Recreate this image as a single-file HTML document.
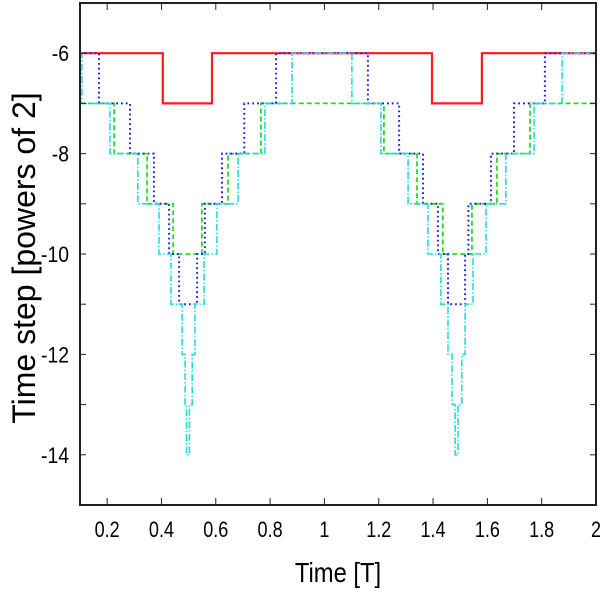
<!DOCTYPE html>
<html><head><meta charset="utf-8"><style>
body{margin:0;background:#fff;width:600px;height:592px;overflow:hidden}
svg text{font-family:"Liberation Sans",sans-serif;fill:#000}
</style></head><body>
<svg id="chart" width="600" height="592" viewBox="0 0 600 592" xmlns="http://www.w3.org/2000/svg">
<g id="marks"></g>
<g id="axes"></g>
<text x="338" y="582" font-size="28" text-anchor="middle" transform="translate(338,0) scale(0.85,1) translate(-338,0)">Time [T]</text>
<text x="0" y="0" font-size="32" text-anchor="middle" transform="translate(35,258) rotate(-90)">Time step [powers of 2]</text>
</svg>
<script>
const xTicks=[0.2,0.4,0.6,0.8,1,1.2,1.4,1.6,1.8,2];
const xTickLabels=["0.2","0.4","0.6","0.8","1","1.2","1.4","1.6","1.8","2"];
const yTicks=[-6,-8,-10,-12,-14];
const yTickLabels=["-6","-8","-10","-12","-14"];
const redTimes=[0.1,0.405,0.586,1.396,1.580];
const redLevels=[-6,-7,-6,-7,-6];
const greenTimes=[0.1,0.226,0.347,0.443,0.549,0.645,0.766,1.219,1.341,1.436,1.543,1.635,1.757];
const greenLevels=[-7,-8,-9,-10,-9,-8,-7,-8,-9,-10,-9,-8,-7];
const blueTimes=[0.1,0.170,0.284,0.372,0.428,0.465,0.531,0.560,0.623,0.705,0.822,1.160,1.275,1.363,1.418,1.455,1.518,1.530,1.613,1.698,1.812];
const blueLevels=[-6,-7,-8,-9,-10,-11,-10,-9,-8,-7,-6,-7,-8,-9,-10,-11,-10,-9,-8,-7,-6];
const cyanTimes=[0.1,0.107,0.210,0.313,0.391,0.435,0.476,0.487,0.492,0.503,0.513,0.523,0.557,0.604,0.682,0.781,0.881,1.101,1.208,1.308,1.381,1.429,1.455,1.470,1.481,1.492,1.506,1.518,1.547,1.595,1.668,1.772,1.875];
const cyanLevels=[-6,-7,-8,-9,-10,-11,-12,-13,-14,-13,-12,-11,-10,-9,-8,-7,-6,-7,-8,-9,-10,-11,-12,-13,-14,-13,-12,-11,-10,-9,-8,-7,-6];

const X0=80,X1=596,Y0=3,Y1=505,xMin=0.1,xMax=2,yMin=-15,yMax=-5;
const xs=t=>X0+(t-xMin)/(xMax-xMin)*(X1-X0);
const ys=v=>Y1-(v-yMin)/(yMax-yMin)*(Y1-Y0);
const NS="http://www.w3.org/2000/svg";
const marks=document.getElementById('marks'),axes=document.getElementById('axes');
function mk(tag,parent,attrs){const e=document.createElementNS(NS,tag);for(const k in attrs)e.setAttribute(k,attrs[k]);parent.appendChild(e);return e;}

function series(times,levels,color,dash,w,name){
  let d='M'+xs(times[0]).toFixed(1)+','+ys(levels[0]).toFixed(1);
  for(let i=1;i<times.length;i++){d+=' H'+xs(times[i]).toFixed(1)+' V'+ys(levels[i]).toFixed(1);}
  d+=' H'+xs(xMax).toFixed(1);
  const p=mk('path',marks,{d:d,fill:'none',stroke:color,'stroke-width':w});
  if(dash)p.setAttribute('stroke-dasharray',dash);
  
  
}
series(redTimes,redLevels,'#ff1a1a',null,2.2,'series-red');
series(greenTimes,greenLevels,'#22dd22','5,3',1.8,'series-green');
series(blueTimes,blueLevels,'#2222dd','1.8,3',2,'series-blue');
series(cyanTimes,cyanLevels,'#22dddd','7,2,1.5,2',1.6,'series-cyan');

const frame=mk('rect',axes,{x:X0,y:Y0,width:X1-X0,height:Y1-Y0,fill:'none',stroke:'#222','stroke-width':2});


xTicks.forEach((t,i)=>{
  const x=xs(t);
  mk('line',axes,{x1:x,x2:x,y1:Y1,y2:Y1-7,stroke:'#222','stroke-width':1});
  mk('line',axes,{x1:x,x2:x,y1:Y0,y2:Y0+7,stroke:'#222','stroke-width':1});
  const tx=mk('text',axes,{x:x,y:537,'font-size':22,'text-anchor':'middle',transform:`translate(${x},0) scale(0.82,1) translate(${-x},0)`});
  tx.textContent=xTickLabels[i];
  
  
});
for(let v=-14;v<=-6;v++){
  const y=ys(v);
  mk('line',axes,{x1:X0,x2:X0+6,y1:y,y2:y,stroke:'#222','stroke-width':1});
  mk('line',axes,{x1:X1,x2:X1-6,y1:y,y2:y,stroke:'#222','stroke-width':1});
}
yTicks.forEach((v,i)=>{
  const y=ys(v);
  const tx=mk('text',axes,{x:69,y:y+8,'font-size':22,'text-anchor':'end',transform:`translate(69,0) scale(0.88,1) translate(-69,0)`});
  tx.textContent=yTickLabels[i];
  
  
});
</script>
</body></html>
